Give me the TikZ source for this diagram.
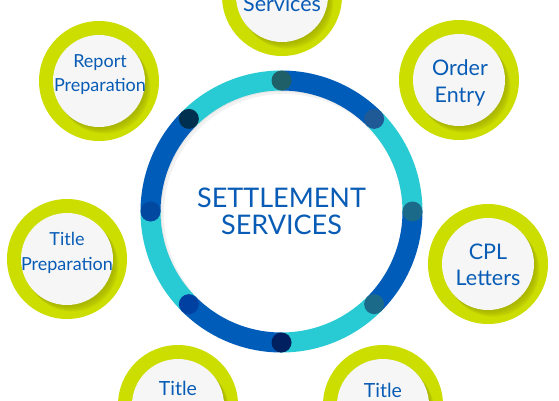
\documentclass[tikz,border=0pt]{standalone}
\usepackage{fontspec}
\setmainfont{Lato}
\definecolor{ringblue}{RGB}{0,92,185}
\definecolor{ringcyan}{RGB}{40,202,212}
\definecolor{lime}{RGB}{204,221,0}
\definecolor{limeshadow}{RGB}{150,160,0}
\definecolor{txtblue}{RGB}{8,92,182}
\definecolor{innergray}{RGB}{246,246,246}
\definecolor{dotA}{RGB}{31,96,104}
\definecolor{dotB}{RGB}{31,90,150}
\definecolor{dotC}{RGB}{28,106,138}
\definecolor{dotD}{RGB}{0,32,96}
\definecolor{dotE}{RGB}{0,64,160}
\definecolor{dotF}{RGB}{0,72,160}
\definecolor{dotG}{RGB}{0,48,80}
\newcommand\mysat[2]{%
  \coordinate (#1) at (#2);
  \fill[lime] (#1) circle[radius=60pt];
  \foreach \s in {1,...,6}{\fill[limeshadow, opacity=0.14] ([shift={({\s*0.9pt},{-1.1pt*\s})}]#1) circle[radius=46pt];}
  \fill[innergray] (#1) circle[radius=46pt];
}
\begin{document}
\begin{tikzpicture}[x=1pt,y=-1pt,
  sattext/.style={text=txtblue, align=center, inner sep=0pt},
  mainring/.style={line width=20pt}]
\useasboundingbox (0,0) rectangle (559,400);
\fill[white] (0,0) rectangle (559,400);
% main ring
\coordinate (c) at (281.5,211.5);
\fill[black!10] (c) circle[radius=122pt];
\fill[black!5] ([shift={(1pt,-1pt)}]c) circle[radius=121pt];
\fill[white] ([shift={(2.5pt,-2.5pt)}]c) circle[radius=120pt];
\foreach \a/\col in {90/ringblue,45/ringcyan,0/ringblue,-45/ringcyan,-90/ringblue,-135/ringcyan,180/ringblue,135/ringcyan}{
  \draw[mainring, draw=\col] ([shift={(\a:131pt)}]c) arc[start angle=\a, delta angle=-45.3, radius=131pt];
}
\foreach \a/\col in {90/dotA,45/dotB,0/dotC,-45/dotC,-90/dotD,-135/dotE,180/dotF,135/dotG}{
  \fill[\col] ([shift={(\a:131pt)}]c) circle[radius=10pt];
}
\node[sattext, font=\fontsize{27}{27}\selectfont] (title) at (281.5,211) {SETTLEMENT\\SERVICES};
% satellites
\mysat{top}{282,-4}
\mysat{order}{459,80}
\mysat{cpl}{488,264}
\mysat{br}{383,405}
\mysat{bl}{178,405}
\mysat{tprep}{67,259}
\mysat{report}{99,81}
\node[sattext, font=\fontsize{21.5}{24}\selectfont, anchor=base] (topT) at (282,11) {Services};
\node[sattext, font=\fontsize{21.5}{27}\selectfont] (orderT) at (460,83) {Order\\Entry};
\node[sattext, font=\fontsize{21.5}{26}\selectfont] (cplT) at (488,265) {CPL\\Letters};
\node[sattext, font=\fontsize{19.5}{24}\selectfont, anchor=base] (brT) at (383,397) {Title};
\node[sattext, font=\fontsize{19.5}{24}\selectfont, anchor=base] (blT) at (178,395) {Title};
\node[sattext, font=\fontsize{18}{25}\selectfont] (tprepT) at (67,253) {Title\\Preparation};
\node[sattext, font=\fontsize{18}{24}\selectfont] (reportT) at (100,75) {Report\\Preparation};
\end{tikzpicture}
\end{document}
